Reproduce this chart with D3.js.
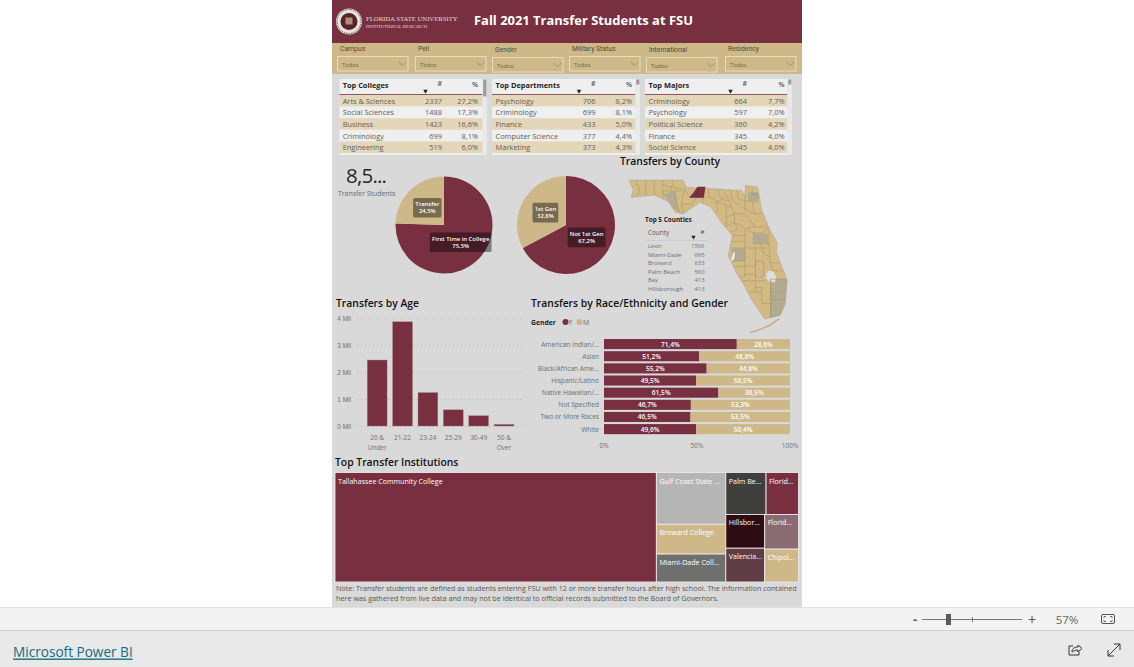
<!DOCTYPE html>
<html lang="en">
<head>
<meta charset="UTF-8">
<title>Fall 2021 Transfer Students at FSU</title>
<script src="https://d3js.org/d3.v7.min.js"></script>
<style>
    html, body { margin: 0; padding: 0; background: #fff; overflow: hidden; }
    svg { display: block; font-family: "Open Sans", "Noto Sans", sans-serif; }
</style>
</head>
<body>
<svg id="viz" width="1134" height="667"></svg>
<script>
    // table data
    var collegeNames = ["Arts & Sciences", "Social Sciences", "Business", "Criminology", "Engineering"];
    var collegeCounts = [2337, 1488, 1423, 699, 519];
    var collegePcts = ["27,2%", "17,3%", "16,6%", "8,1%", "6,0%"];
    var deptNames = ["Psychology", "Criminology", "Finance", "Computer Science", "Marketing"];
    var deptCounts = [706, 699, 433, 377, 373];
    var deptPcts = ["8,2%", "8,1%", "5,0%", "4,4%", "4,3%"];
    var majorNames = ["Criminology", "Psychology", "Political Science", "Finance", "Social Science"];
    var majorCounts = [664, 597, 360, 345, 345];
    var majorPcts = ["7,7%", "7,0%", "4,2%", "4,0%", "4,0%"];

    var slicerNames = ["Campus", "Pell", "Gender", "Military Status", "International", "Residency"];

    var entryLabels = ["First Time in College", "Transfer"];
    var entryValues = [75.5, 24.5];
    var genLabels = ["Not 1st Gen", "1st Gen"];
    var genValues = [67.2, 32.8];

    var countyNames = ["Leon", "Miami-Dade", "Broward", "Palm Beach", "Bay", "Hillsborough"];
    var countyCounts = [1506, 695, 633, 560, 413, 413];

    var ageGroups = ["20 & Under", "21-22", "23-24", "25-29", "30-49", "50 & Over"];
    var ageValues = [2.45, 3.87, 1.24, 0.6, 0.38, 0.06];
    var ageTicks = [0, 1, 2, 3, 4];

    var raceNames = ["American Indian/...", "Asian", "Black/African Ame...", "Hispanic/Latino", "Native Hawaiian/...", "Not Specified", "Two or More Races", "White"];
    var femaleShare = [71.4, 51.2, 55.2, 49.5, 61.5, 46.7, 46.5, 49.6];
    var maleShare = [28.6, 48.8, 44.8, 50.5, 38.5, 53.3, 53.5, 50.4];

    var schoolLabels = ["Tallahassee Community College", "Gulf Coast State ...", "Broward College", "Miami-Dade Coll...", "Palm Be...", "Florid...", "Hillsbor...", "Valencia...", "Florid...", "Chipol..."];
    var schoolValues = [2250, 230, 132, 124, 108, 87, 84, 84, 75, 71];

    // map geometry, lon/lat
    var floridaOutline = [[-87.6,31],[-85,31],[-84.86,30.7],[-82.21,30.57],[-82.05,30.36],[-82.02,30.78],[-81.44,30.71],[-81.26,29.8],[-80.9,29],[-80.5,28.4],[-80.55,28],[-80.03,26.8],[-80.12,25.8],[-80.35,25.3],[-81.1,25.13],[-81.75,26],[-82.1,26.6],[-82.45,27.1],[-82.85,27.85],[-82.65,28.7],[-83.1,29.15],[-83.7,29.9],[-84.2,30.08],[-85,29.6],[-85.4,29.68],[-85.7,30.1],[-86.4,30.38],[-87.5,30.28],[-87.4,30.6]];
    var keysLine = [[-80.4,25.15],[-80.9,24.85],[-81.4,24.65],[-81.8,24.55]];
    var countyLines = [
        [[-87.25,31],[-87.1,30.55],[-87.2,30.3]], [[-86.8,31],[-86.8,30.3]], [[-86.39,31],[-86.39,30.3]],
        [[-85.99,31],[-85.99,30.2]], [[-85.49,31],[-85.49,30.78],[-85.6,30.72],[-84.93,30.6]],
        [[-85.99,30.78],[-85.6,30.72]], [[-85.6,30.72],[-85.6,30.55]], [[-85.99,30.55],[-85.1,30.55]],
        [[-85.4,30.55],[-85.3,30],[-85.16,29.6]], [[-84.93,30.6],[-85.1,30.1],[-85,29.5]], [[-85.1,30],[-84.55,30],[-84.35,30.3]],
        [[-84.93,30.6],[-84.7,30.3]], [[-84.7,30.3],[-84.05,30.3]], [[-84.05,30.7],[-84.05,30]],
        [[-83.8,30.66],[-83.75,30.3],[-84.05,30.3]], [[-83.75,30.3],[-83.4,30.1],[-83.35,29.6]], [[-83.4,30.66],[-83.15,30.2],[-83.4,30.1]],
        [[-83.15,30.62],[-82.8,30.15],[-82.7,29.9]], [[-83.15,30.2],[-82.8,30.15]], [[-83.4,30.1],[-82.95,29.95],[-82.7,29.9]],
        [[-82.95,29.95],[-82.95,29.1]], [[-82.7,29.9],[-82.55,29.6],[-82.95,29.45]], [[-82.75,30.6],[-82.65,30.15],[-82.3,29.95]],
        [[-82.45,30.58],[-82.35,30.2],[-82.05,30.15],[-81.4,30.1]], [[-82.05,30.55],[-82.05,29.8],[-81.55,29.6]], [[-82.3,29.95],[-82.05,29.8]],
        [[-81.7,30.75],[-81.7,30.4],[-81.4,30.4]], [[-81.7,30.1],[-81.6,29.6],[-81.2,29.65]], [[-82.55,29.6],[-82.05,29.6],[-81.55,29.05],[-80.9,29.05]],
        [[-82.55,29.6],[-82.55,29.25],[-82.05,29],[-81.55,29.05]], [[-82.55,29.25],[-82.95,29.1]], [[-82.55,29.25],[-82.4,28.95],[-82.75,28.85]],
        [[-82.05,29],[-82.05,28.2]], [[-82.75,28.7],[-82.05,28.7]], [[-82.75,28.45],[-82.05,28.45]], [[-82.75,28.17],[-80.95,28.17]],
        [[-81.95,28.95],[-81.65,28.8],[-81.65,28.35]], [[-81.65,28.8],[-81.2,28.8],[-80.9,29.05]], [[-81.65,28.35],[-80.9,28.35]],
        [[-80.9,29],[-80.9,28.35],[-80.85,27.8],[-80.85,27.55],[-80.4,27.55]], [[-81.3,28.35],[-81.15,27.9],[-80.85,27.8]],
        [[-82.05,28.17],[-82.05,27.65],[-82.65,27.65]], [[-81.55,28.2],[-81.55,27.65],[-81.15,27.55]], [[-82.65,27.4],[-81.55,27.4],[-81.55,27.65]],
        [[-82.05,27.65],[-82.05,26.95],[-82.4,26.95]], [[-81.55,27.65],[-81.55,26.95],[-81.15,26.95]], [[-82.05,27.05],[-81.55,27.05],[-81.55,26.78],[-81.1,26.78]],
        [[-81.15,27.6],[-81.15,27],[-80.95,26.95]], [[-80.85,27.55],[-80.7,27.2]], [[-80.75,27.2],[-80.1,27.2]],
        [[-82.2,26.78],[-81.55,26.78]], [[-81.55,26.78],[-81.55,26.3],[-81.85,26.3]], [[-81.55,26.5],[-81.25,26.5],[-81.25,25.8]],
        [[-81.55,26.3],[-81.25,26.3]], [[-80.82,26.85],[-80.82,25],[-80.82,26.85],[-80,26.85]], [[-80.82,26.32],[-80.05,26.32]], [[-80.82,25.97],[-80.05,25.97]], [[-81.25,25.8],[-80.82,25.8]]
    ];
    var countyHighlights = [
        { fill: "#B3AA92", points: [[-85.97,30.41],[-85.4,30.54],[-85.3,30],[-85.16,29.62],[-85.54,29.91]] },
        { fill: "#B3AA92", points: [[-81.9,30.5],[-81.4,30.5],[-81.4,30.15],[-81.9,30.15]] },
        { fill: "#B3AA92", points: [[-81.65,28.78],[-80.95,28.78],[-80.95,28.35],[-81.65,28.35]] },
        { fill: "#B3AA92", points: [[-82.7,28.15],[-82.05,28.15],[-82.05,27.6],[-82.7,27.6]] },
        { fill: "#B3AA92", points: [[-80.82,26.85],[-80,26.85],[-80,26.32],[-80.82,26.32]] },
        { fill: "#B3AA92", points: [[-80.82,26.32],[-80,26.32],[-80,25.97],[-80.82,25.97]] },
        { fill: "#B3AA92", points: [[-80.82,25.97],[-80,25.97],[-80,25],[-80.82,25]] }
    ];
    var leonCounty = [[-84.72,30.27],[-84.52,30.48],[-84.32,30.72],[-83.94,30.72],[-84.02,30.27]];
    var lakeOkeechobee = [[-80.95,27.2],[-80.7,27.2],[-80.55,26.95],[-80.62,26.72],[-80.85,26.72],[-81.1,26.95]];
    var tampaBay = [[-82.62,27.98],[-82.52,27.98],[-82.58,27.68],[-82.72,27.6]];

    var garnet = "#782F40", gold = "#CEB888", grey = "#605E5C";
    var svg = d3.select("#viz");

    function put(parent, x, y, str, size, opts) {
        opts = opts || {};
        return parent.append("text")
            .attr("x", x).attr("y", y)
            .attr("font-size", size)
            .attr("font-weight", opts.weight || 400)
            .attr("font-family", opts.family || null)
            .attr("text-anchor", opts.anchor || "start")
            .attr("dominant-baseline", "central")
            .attr("fill", opts.color || grey)
            .text(str);
    }
    function box(parent, x, y, w, h, fill) {
        return parent.append("rect").attr("x", x).attr("y", y).attr("width", w).attr("height", h).attr("fill", fill);
    }

    // page frame
    box(svg, 332, 0, 470, 607, "#D9D9D9");
    box(svg, 332, 0, 470, 43, garnet);
    box(svg, 332, 43, 470, 31, gold);

    // seal
    var seal = svg.append("g").attr("transform", "translate(349,21.5)");
    seal.append("circle").attr("r", 13).attr("fill", "#e8e4dc");
    seal.append("circle").attr("r", 12).attr("fill", "none").attr("stroke", "#555").attr("stroke-width", 1).attr("stroke-dasharray", "1.5 1");
    seal.append("circle").attr("r", 8.5).attr("fill", "#5a2230");
    box(seal, -3.5, -4, 7, 7, "#c9b68c").attr("opacity", 0.75);
    put(svg, 366, 18.5, "FLORIDA STATE UNIVERSITY", 6.7, { family: "Liberation Serif", color: "#e6dcd8" });
    put(svg, 366, 26, "INSTITUTIONAL RESEARCH", 4.7, { family: "Liberation Serif", color: "#e6dcd8" });
    put(svg, 474, 20, "Fall 2021 Transfer Students at FSU", 12.95, { weight: 700, color: "#fff" });

    // slicers
    var slicerX = [337.5, 415.5, 492.5, 569.5, 646.5, 725.5];
    var slicerY = [56.5, 56.5, 57.5, 56.5, 57.5, 56.5];
    var slicerLabelX = [340, 418, 495, 572, 649, 728];
    slicerNames.forEach(function (name, i) {
        put(svg, slicerLabelX[i], slicerY[i] - 8, name, 6.8, { family: "Roboto", color: "#4a4a44" });
        svg.append("rect").attr("x", slicerX[i]).attr("y", slicerY[i]).attr("width", 70.5).attr("height", 14.5)
            .attr("fill", "none").attr("stroke", "#E6DCC2").attr("stroke-width", 1);
        put(svg, slicerX[i] + 4.5, slicerY[i] + 8, "Todos", 5.8, { color: "#6b624c" });
        svg.append("path")
            .attr("d", d3.line()([[slicerX[i] + 61, slicerY[i] + 5.5], [slicerX[i] + 65, slicerY[i] + 9], [slicerX[i] + 69, slicerY[i] + 5.5]]))
            .attr("fill", "none").attr("stroke", "#8c8268").attr("stroke-width", 0.7);
    });

    // top-n tables
    var defs = svg.append("defs");

    function drawTable(title, names, counts, pcts, x, w, nameX, countX, pctX, thumbH) {
        var g = svg.append("g");
        box(g, x, 79, w, 76, "#EFEFEF");
        g.append("line").attr("x1", x).attr("x2", x + w).attr("y1", 94.5).attr("y2", 94.5).attr("stroke", garnet).attr("stroke-width", 0.8);
        put(g, nameX, 84.5, title, 7.4, { weight: 700, color: "#252423" });
        put(g, countX, 83.5, "#", 7, { weight: 600, anchor: "end", color: "#555" });
        put(g, pctX, 84.5, "%", 7, { weight: 600, anchor: "end", color: "#555" });
        g.append("path").attr("d", d3.symbol(d3.symbolTriangle, 9)()).attr("fill", "#252423")
            .attr("transform", "translate(" + (countX - 16.5) + ",91) rotate(180)");
        var rowY = d3.scaleBand().domain(d3.range(names.length)).range([95, 95 + 11.6 * names.length]);
        names.forEach(function (name, i) {
            box(g, x, rowY(i), w, rowY.bandwidth(), i % 2 === 0 ? "#E3D6B9" : "#EFEFEF");
            var cy = rowY(i) + rowY.bandwidth() / 2;
            put(g, nameX, cy, name, 7.4);
            put(g, countX, cy, counts[i], 7.4, { anchor: "end" });
            put(g, pctX, cy, pcts[i], 7.4, { anchor: "end" });
        });
        box(g, x + w, 79, 4.5, 76, "#E9E9E9");
        box(g, x + w + 0.7, 79.5, 3.2, thumbH, "#9A9A9A");
    }
    drawTable("Top Colleges", collegeNames, collegeCounts, collegePcts, 339.5, 143, 342.7, 442, 478, 17);
    drawTable("Top Departments", deptNames, deptCounts, deptPcts, 492, 143.5, 495.5, 595.5, 632, 5);
    drawTable("Top Majors", majorNames, majorCounts, majorPcts, 645, 142.5, 648.5, 747, 784.5, 5);

    // card
    put(svg, 346, 175, "8,5...", 20.5, { color: "#252423" }).attr("textLength", 41).attr("lengthAdjust", "spacing");
    put(svg, 338, 193.5, "Transfer Students", 6.9, { color: "#5f6b70" });

    // pies
    function drawPie(cx, cy, r, labels, values) {
        var g = svg.append("g").attr("transform", "translate(" + cx + "," + cy + ")");
        var arcs = d3.pie().sort(null)(values);
        var arc = d3.arc().innerRadius(0).outerRadius(r);
        var labelArc = d3.arc().innerRadius(24).outerRadius(24);
        g.selectAll("path").data(arcs).enter().append("path")
            .attr("d", arc)
            .attr("fill", function (d, i) { return i === 0 ? garnet : gold; });
        arcs.forEach(function (d, i) {
            var c = labelArc.centroid(d);
            var lab = g.append("g").attr("transform", "translate(" + c[0] + "," + c[1] + ")");
            var bg = lab.append("rect").attr("rx", 1.5).attr("fill", "rgba(0,0,0,0.42)");
            var a = put(lab, 0, -3.4, labels[i], 5.9, { weight: 600, anchor: "middle", color: "#fff" });
            put(lab, 0, 3.6, values[i].toFixed(1).replace(".", ",") + "%", 5.9, { weight: 600, anchor: "middle", color: "#fff" });
            var w = a.node().getBBox().width + 4;
            if (w < 25) w = 25;
            bg.attr("x", -w / 2).attr("y", -9.8).attr("width", w).attr("height", 19.6);
        });
    }
    drawPie(444, 225, 48.5, entryLabels, entryValues);
    drawPie(566, 225, 49, genLabels, genValues);

    // section titles
    function title(x, y, str) { put(svg, x, y, str, 10.35, { weight: 600, color: "#111" }); }
    title(620, 161, "Transfers by County");
    title(336, 303, "Transfers by Age");
    title(531, 303, "Transfers by Race/Ethnicity and Gender");
    title(335, 462, "Top Transfer Institutions");

    // map
    var projection = d3.geoMercator().scale(1197).center([-87.6, 31]).translate([629, 180]);
    var mapLine = d3.line().x(function (d) { return projection(d)[0]; }).y(function (d) { return projection(d)[1]; });
    defs.append("clipPath").attr("id", "flClip").append("path").attr("d", mapLine(floridaOutline) + "Z");
    var map = svg.append("g");
    map.append("path").attr("d", mapLine(floridaOutline) + "Z").attr("fill", "#D3BA85");
    var inner = map.append("g").attr("clip-path", "url(#flClip)");
    countyHighlights.forEach(function (c) {
        inner.append("path").attr("d", mapLine(c.points) + "Z").attr("fill", c.fill);
    });
    inner.append("path").attr("d", mapLine(lakeOkeechobee) + "Z").attr("fill", "#DEDEDE");
    inner.append("path").attr("d", mapLine(tampaBay) + "Z").attr("fill", "#F0F0F0");
    inner.selectAll(".county").data(countyLines).enter().append("path").attr("class", "county")
        .attr("d", mapLine).attr("fill", "none").attr("stroke", "#A09068").attr("stroke-width", 0.5);
    map.append("path").attr("d", mapLine(floridaOutline) + "Z").attr("fill", "none").attr("stroke", "#A8A08A").attr("stroke-width", 0.5);
    map.append("path").attr("d", mapLine(keysLine)).attr("fill", "none").attr("stroke", "#C4AE7E").attr("stroke-width", 1.5);
    // Leon sits on top so the county lines do not cut through it
    map.append("path").attr("d", mapLine(leonCounty) + "Z").attr("fill", garnet);

    // top 5 counties
    put(svg, 645, 219.5, "Top 5 Counties", 6.4, { weight: 700, color: "#252423" });
    put(svg, 648, 232.5, "County", 6.4, { color: "#555" });
    put(svg, 704.5, 232, "#", 6, { anchor: "end", color: "#555" });
    svg.append("line").attr("x1", 645).attr("x2", 708).attr("y1", 240.5).attr("y2", 240.5).attr("stroke", "#c4c4c4").attr("stroke-width", 0.6);
    svg.append("path").attr("d", d3.symbol(d3.symbolTriangle, 8)()).attr("fill", "#252423")
        .attr("transform", "translate(693.5,237) rotate(180)");
    var countyRowY = d3.scalePoint().domain(countyNames).range([246, 289]);
    countyNames.forEach(function (name, i) {
        put(svg, 648, countyRowY(name), name, 5.9, { color: "#66707a" });
        put(svg, 704.5, countyRowY(name), countyCounts[i], 5.9, { anchor: "end", color: "#66707a" });
    });

    // age bars
    var ageX = d3.scaleBand().domain(ageGroups).range([364.5, 516.7]).paddingInner(0.22).paddingOuter(0.11);
    var ageY = d3.scaleLinear().domain([0, 4]).range([426, 318.3]);
    var ageAxis = svg.append("g").attr("transform", "translate(357,0)")
        .call(d3.axisLeft(ageY).tickValues(ageTicks).tickSize(-167).tickPadding(6).tickFormat(function (d) { return d + " Mil"; }));
    ageAxis.select(".domain").remove();
    ageAxis.selectAll("line").attr("stroke", "#a0a0a0").attr("stroke-width", 0.7).attr("stroke-dasharray", "1 3");
    ageAxis.selectAll("text").attr("font-size", 6.5).attr("fill", "#6e6e6e").attr("font-family", null);
    svg.selectAll(".age").data(ageValues).enter().append("rect").attr("class", "age")
        .attr("x", function (d, i) { return ageX(ageGroups[i]); })
        .attr("y", function (d) { return ageY(d); })
        .attr("width", ageX.bandwidth())
        .attr("height", function (d) { return ageY(0) - ageY(d); })
        .attr("fill", garnet).attr("stroke", "#9c7a84").attr("stroke-width", 0.4);
    ageGroups.forEach(function (name, i) {
        var cx = ageX(name) + ageX.bandwidth() / 2;
        var parts = name.indexOf("&") > 0 ? [name.slice(0, 4), name.slice(5)] : [name];
        parts.forEach(function (p, k) {
            put(svg, cx, 437.5 + k * 10, p, 6.5, { anchor: "middle", color: "#6e6e6e" });
        });
    });

    // gender legend
    put(svg, 531, 322, "Gender", 6.8, { weight: 700, color: "#252423" });
    svg.append("circle").attr("cx", 565.5).attr("cy", 322).attr("r", 3).attr("fill", garnet);
    put(svg, 569, 322, "F", 6.8, { color: "#6e6e6e" });
    svg.append("circle").attr("cx", 579.5).attr("cy", 322).attr("r", 3).attr("fill", gold);
    put(svg, 583, 322, "M", 6.8, { color: "#6e6e6e" });

    // race stacked bars
    var raceY = d3.scaleBand().domain(raceNames).range([338, 435.2]).paddingInner(0.17).paddingOuter(0.085);
    var raceX = d3.scaleLinear().domain([0, 100]).range([604, 790]);
    raceNames.forEach(function (name, i) {
        var y = raceY(name), h = raceY.bandwidth(), cy = y + h / 2;
        put(svg, 599, cy, name, 6.6, { anchor: "end", color: "#66707a" });
        box(svg, raceX(0), y, raceX(femaleShare[i]) - raceX(0), h, garnet);
        box(svg, raceX(femaleShare[i]), y, raceX(100) - raceX(femaleShare[i]), h, gold);
        put(svg, raceX(femaleShare[i] / 2), cy, femaleShare[i].toFixed(1).replace(".", ",") + "%", 6.6, { weight: 600, anchor: "middle", color: "#fff" });
        put(svg, raceX(femaleShare[i] + maleShare[i] / 2), cy, maleShare[i].toFixed(1).replace(".", ",") + "%", 6.6, { weight: 600, anchor: "middle", color: "#fff" });
    });
    [0, 50, 100].forEach(function (t) {
        put(svg, raceX(t), 445.5, t + "%", 6.5, { anchor: "middle", color: "#6e6e6e" });
    });

    // treemap, laid out in columns and rows like the original
    function leaf(i) { return { idx: i, value: schoolValues[i] }; }
    var schoolTree = { tile: d3.treemapDice, children: [
        leaf(0),
        { tile: d3.treemapSlice, children: [leaf(1), leaf(2), leaf(3)] },
        { tile: d3.treemapSlice, children: [
            { tile: d3.treemapDice, children: [leaf(4), leaf(5)] },
            { tile: d3.treemapDice, children: [
                { tile: d3.treemapSlice, children: [leaf(6), leaf(7)] },
                { tile: d3.treemapSlice, children: [leaf(8), leaf(9)] }
            ] }
        ] }
    ] };
    var schoolFills = [garnet, "#B5B5B5", gold, "#6F6F6D", "#3F3F3D", garnet, "#2E0C14", "#603C44", "#8B6B73", gold];
    var schoolRoot = d3.hierarchy(schoolTree).sum(function (d) { return d.value || 0; });
    d3.treemap().size([463.5, 109.5]).tile(function (node, x0, y0, x1, y1) {
        node.data.tile(node, x0, y0, x1, y1);
    })(schoolRoot);
    var tree = svg.append("g").attr("transform", "translate(335,472.5)");
    var cells = tree.selectAll("g").data(schoolRoot.leaves()).enter().append("g")
        .attr("transform", function (d) { return "translate(" + d.x0 + "," + d.y0 + ")"; });
    cells.append("rect")
        .attr("width", function (d) { return d.x1 - d.x0; })
        .attr("height", function (d) { return d.y1 - d.y0; })
        .attr("fill", function (d) { return schoolFills[d.data.idx]; })
        .attr("stroke", "#ECE6E6").attr("stroke-width", 0.9);
    cells.each(function (d) {
        put(d3.select(this), 3, 8, schoolLabels[d.data.idx], 7.1, { color: "#fff" });
    });

    // note
    put(svg, 336, 588, "Note: Transfer students are defined as students entering FSU with 12 or more transfer hours after high school. The information contained", 7.2, { color: "#555" });
    put(svg, 336, 598, "here was gathered from live data and may not be identical to official records submitted to the Board of Governors.", 7.2, { color: "#555" });

    // power bi chrome
    box(svg, 0, 607, 1134, 23, "#F3F3F3");
    box(svg, 0, 630, 1134, 37, "#E9E9E9");
    svg.append("line").attr("x1", 0).attr("x2", 1134).attr("y1", 607.5).attr("y2", 607.5).attr("stroke", "#E0E0E0");
    svg.append("line").attr("x1", 0).attr("x2", 1134).attr("y1", 630.5).attr("y2", 630.5).attr("stroke", "#D2D2D2");
    put(svg, 13, 651, "Microsoft Power BI", 13.6, { color: "#0E6E7E" }).attr("text-decoration", "underline");
    put(svg, 915, 619, "-", 13, { anchor: "middle", weight: 700, color: "#555" });
    svg.append("line").attr("x1", 922).attr("x2", 1022).attr("y1", 619.5).attr("y2", 619.5).attr("stroke", "#777");
    svg.append("line").attr("x1", 972.5).attr("x2", 972.5).attr("y1", 617).attr("y2", 622).attr("stroke", "#777");
    box(svg, 946, 614, 5, 11, "#5a5a5a");
    put(svg, 1032, 619, "+", 14, { anchor: "middle", color: "#555" });
    put(svg, 1067, 619, "57%", 11.5, { anchor: "middle", color: "#666" });
    svg.append("rect").attr("x", 1101.5).attr("y", 614.5).attr("width", 13).attr("height", 9).attr("rx", 1.5).attr("fill", "none").attr("stroke", "#555");
    svg.append("path").attr("d", "M1104 618v-1.5h2M1112 618v-1.5h-2M1104 620v1.5h2M1112 620v1.5h-2").attr("fill", "none").attr("stroke", "#555").attr("stroke-width", 0.8);
    svg.append("path").attr("d", "M1073 646h-4v9h10v-3M1072 652c0-4 3-5 6-5v-2l4 3.5-4 3.5v-2c-3 0-4 1-6 2z").attr("fill", "none").attr("stroke", "#333").attr("stroke-width", 1);
    svg.append("path").attr("d", "M1108 656l12-12M1114 644h6v6M1108 650v6h6").attr("fill", "none").attr("stroke", "#333").attr("stroke-width", 1);
</script>
</body>
</html>
